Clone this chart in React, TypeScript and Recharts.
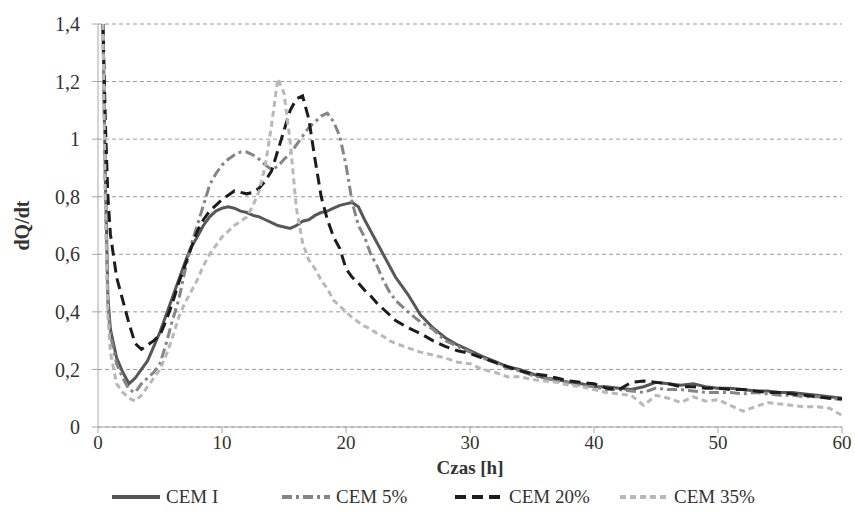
import React from "react"
import { LineChart, Line, XAxis, YAxis, CartesianGrid, Legend } from "recharts"

// czas [h]
const hours = [
  0.4, 0.6, 0.8, 1,
  1.5, 2, 2.5, 3, 3.5, 4, 4.5, 5, 5.5, 6, 6.5, 7, 7.5, 8, 8.5, 9, 9.5, 10,
  10.5, 11, 11.5, 12, 12.5, 13, 13.5, 14, 14.5, 15, 15.5, 16, 16.5, 17, 17.5, 18, 18.5, 19, 19.5, 20,
  20.5, 21, 21.5, 22, 22.5, 23, 23.5, 24,
  25, 26, 27, 28, 29, 30, 31, 32, 33, 34, 35, 36, 37, 38, 39, 40, 41, 42,
  43, 44, 45, 46, 47, 48, 49, 50, 51, 52, 53, 54, 55, 56, 57, 58, 59, 60,
]

const cemI = [
  1.4, 0.85, 0.45, 0.34,
  0.24, 0.19, 0.15, 0.17, 0.2, 0.23, 0.28, 0.33, 0.39, 0.45, 0.51, 0.57, 0.625, 0.66, 0.7, 0.73, 0.75, 0.76,
  0.765, 0.76, 0.75, 0.745, 0.735, 0.73, 0.72, 0.71, 0.7, 0.695, 0.69, 0.7, 0.715, 0.72, 0.735, 0.745, 0.75, 0.76, 0.77, 0.775,
  0.78, 0.765, 0.72, 0.68, 0.64, 0.6, 0.56, 0.52,
  0.46, 0.39, 0.345, 0.31, 0.285, 0.265, 0.245, 0.228, 0.21, 0.2, 0.185, 0.17, 0.165, 0.155, 0.15, 0.14, 0.14, 0.135,
  0.13, 0.14, 0.155, 0.15, 0.145, 0.15, 0.14, 0.135, 0.135, 0.13, 0.125, 0.125, 0.12, 0.12, 0.115, 0.11, 0.105, 0.1,
]

const cem5 = [
  1.4, 0.8, 0.42, 0.32,
  0.22, 0.17, 0.13, 0.12, 0.15, 0.17, 0.19, 0.22, 0.29, 0.37, 0.44, 0.54, 0.63, 0.7, 0.77, 0.84, 0.88, 0.91,
  0.93, 0.945, 0.955, 0.955, 0.945, 0.93, 0.91, 0.895, 0.905, 0.93, 0.95, 0.98, 1.01, 1.04, 1.06, 1.08, 1.09, 1.06, 1.01, 0.91,
  0.78, 0.7, 0.66, 0.6, 0.56, 0.51, 0.47, 0.44,
  0.4, 0.365, 0.34, 0.3, 0.28, 0.26, 0.24, 0.225, 0.205, 0.195, 0.18, 0.17, 0.16, 0.155, 0.145, 0.14, 0.13, 0.13,
  0.125, 0.12, 0.135, 0.13, 0.13, 0.125, 0.12, 0.12, 0.12, 0.115, 0.12, 0.115, 0.11, 0.11, 0.105, 0.105, 0.1, 0.095,
]

const cem20 = [
  1.4, 1.05, 0.8, 0.67,
  0.52, 0.44, 0.36, 0.29, 0.27, 0.285, 0.3, 0.32, 0.37, 0.43, 0.5, 0.56, 0.62, 0.68, 0.72, 0.75, 0.77, 0.79,
  0.805, 0.82, 0.815, 0.81, 0.815, 0.83, 0.855, 0.89, 0.96, 1.03, 1.1, 1.14, 1.15, 1.07, 0.93, 0.8, 0.72, 0.66, 0.62, 0.55,
  0.52, 0.5, 0.475, 0.455, 0.43, 0.41, 0.39, 0.37,
  0.345, 0.325, 0.3, 0.28, 0.265, 0.255, 0.24, 0.225, 0.21, 0.195, 0.185, 0.18, 0.17, 0.16, 0.155, 0.15, 0.135, 0.13,
  0.155, 0.16, 0.155, 0.15, 0.14, 0.14, 0.135, 0.135, 0.13, 0.13, 0.125, 0.12, 0.12, 0.115, 0.11, 0.105, 0.1, 0.098,
]

const cem35 = [
  1.4, 0.75, 0.38, 0.26,
  0.15, 0.12, 0.1, 0.09, 0.11, 0.14, 0.17, 0.2, 0.25, 0.31, 0.38, 0.43, 0.47, 0.51, 0.56, 0.6, 0.63, 0.66,
  0.68, 0.7, 0.715, 0.73, 0.77, 0.82, 0.91, 1.05, 1.21, 1.16, 0.99, 0.76, 0.64, 0.58, 0.55, 0.51, 0.48, 0.44, 0.42, 0.4,
  0.38, 0.365, 0.35, 0.34, 0.325, 0.315, 0.3, 0.29,
  0.275, 0.26, 0.25, 0.24, 0.225, 0.22, 0.2, 0.19, 0.175, 0.175, 0.165, 0.16, 0.155, 0.145, 0.14, 0.13, 0.12, 0.115,
  0.11, 0.075, 0.11, 0.1, 0.085, 0.105, 0.09, 0.095, 0.075, 0.055, 0.07, 0.085, 0.08, 0.075, 0.07, 0.07, 0.065, 0.04,
]

const xTicks = [0, 10, 20, 30, 40, 50, 60]
const yTicks = [0, 0.2, 0.4, 0.6, 0.8, 1, 1.2, 1.4]

const series = [
  { key: "cemI", name: "CEM I", color: "#575757", dash: undefined },
  { key: "cem5", name: "CEM 5%", color: "#858585", dash: "10 4 3 4" },
  { key: "cem20", name: "CEM 20%", color: "#1c1c1c", dash: "11 6" },
  { key: "cem35", name: "CEM 35%", color: "#b8b8b8", dash: "6 4" },
]

// legend slot widths
const legendSlots = [170, 173, 165, 170]

const data = hours.map((h, i) => ({
  h,
  cemI: cemI[i],
  cem5: cem5[i],
  cem20: cem20[i],
  cem35: cem35[i],
}))

const font = "'Times New Roman', 'Liberation Serif', 'DejaVu Serif', serif"

const LegendBox = () => (
  <div style={{ display: "flex", paddingLeft: 111, fontFamily: font, fontSize: 19, color: "#333" }}>
    {series.map((s, i) => (
      <div key={s.key} style={{ display: "flex", alignItems: "center", width: legendSlots[i] }}>
        <svg width={50} height={10} style={{ marginRight: 5 }}>
          <line x1={1} y1={5} x2={49} y2={5} stroke={s.color} strokeWidth={4} strokeDasharray={s.dash} />
        </svg>
        <span>{s.name}</span>
      </div>
    ))}
  </div>
)

export default function App() {
  return (
    <div style={{ position: "fixed", left: 0, top: 0, background: "#fff", fontFamily: font }}>
      <LineChart
        width={855}
        height={522}
        data={data}
        margin={{ top: 24, right: 13, left: 0, bottom: 35 }}
        style={{ fontFamily: font }}
      >
        <CartesianGrid vertical={false} stroke="#9a9a9a" strokeDasharray="4 3" />
        <XAxis
          dataKey="h"
          type="number"
          domain={[0, 60]}
          ticks={xTicks}
          height={60}
          stroke="#a8a8a8"
          tickSize={6}
          tickMargin={3}
          tick={{ fill: "#333", fontSize: 19, fontFamily: font }}
          label={{
            value: "Czas [h]",
            position: "insideBottom",
            offset: 13,
            style: { fill: "#333", fontSize: 19, fontWeight: "bold", fontFamily: font },
          }}
        />
        <YAxis
          type="number"
          domain={[0, 1.4]}
          ticks={yTicks}
          width={98}
          stroke="#a8a8a8"
          tickSize={6}
          tickMargin={12}
          tickFormatter={(v: number) => String(v).replace(".", ",")}
          tick={{ fill: "#333", fontSize: 20, fontFamily: font }}
          label={{
            value: "dQ/dt",
            angle: -90,
            position: "insideLeft",
            offset: 22,
            style: { fill: "#333", fontSize: 20, fontWeight: "bold", fontFamily: font, textAnchor: "middle" },
          }}
        />
        <Legend
          layout="horizontal"
          verticalAlign="middle"
          align="center"
          content={<LegendBox />}
          wrapperStyle={{ top: 486, left: 0, width: 855 }}
        />
        {series.map((s) => (
          <Line
            key={s.key}
            type="linear"
            dataKey={s.key}
            name={s.name}
            stroke={s.color}
            strokeWidth={3}
            strokeDasharray={s.dash}
            dot={false}
            isAnimationActive={false}
          />
        ))}
      </LineChart>
    </div>
  )
}
